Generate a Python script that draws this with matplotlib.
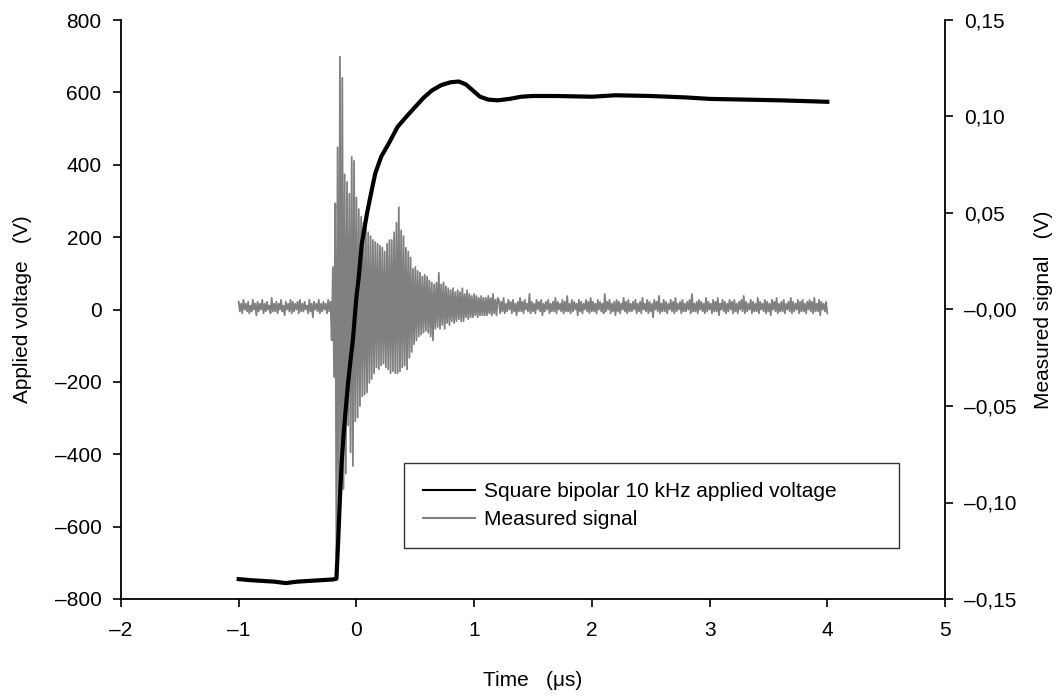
import numpy as np
import matplotlib
matplotlib.use("Agg")
import matplotlib.pyplot as plt

plt.rcParams['font.family'] = ['Liberation Sans', 'DejaVu Sans']

# ---------------- data ----------------
# Applied voltage (V) vs time (us)
volt_t = [-1.0, -0.9, -0.8, -0.7, -0.6, -0.5, -0.4, -0.3, -0.2, -0.17, -0.155, -0.14, -0.125,
          -0.11, -0.095, -0.07, -0.05, -0.03, 0.0, 0.02, 0.045, 0.09, 0.13, 0.16, 0.21, 0.28,
          0.35, 0.43, 0.5, 0.57, 0.64, 0.72, 0.8, 0.87, 0.93, 0.99, 1.05, 1.12, 1.2, 1.3, 1.4,
          1.5, 1.7, 2.0, 2.2, 2.5, 2.8, 3.0, 3.3, 3.6, 3.8, 4.0]
volt_v = [-745, -748, -750, -752, -756, -752, -750, -748, -746, -744, -640, -520, -420,
          -350, -290, -200, -140, -84, 35, 90, 180, 266, 330, 376, 422, 462,
          505, 535, 560, 585, 605, 620, 628, 630, 622, 605, 588, 580, 578, 582, 588,
          590, 590, 588, 592, 590, 586, 582, 580, 578, 576, 574]

# Measured signal (mV), three sampled segments
pre_range = (-1.0, -0.23)
sig_pre_mV = [4, -1, 3, -2, 5, 0, 3, -1, 4, -2, 2, -1, 5, 0, 3, -3, 4, -1, 3, 0,
              5, -2, 3, -1, 4, 0, 2, -2, 6, -1, 3, -1, 4, -2, 3, 0, 5, -1, 2, -3,
              4, 0, 3, -1, 5, -2, 4, -1, 3, 0, 4, -2, 5, -1, 3, -1, 4, 0, 2, -2,
              5, -1, 3, -4, 4, 0, 3, -1, 5, -2, 3, -1, 4, 0, 3, -2, 5, -1]

burst_range = (-0.22, 1.20)
sig_burst_mV = [4, -16, 22, -35, 55, -128, 84, -110, 131, -95,
                120, -93, 70, -85, 66, -60, 60, -74, 79, -81,
                77, -58, 58, -56, 52, -50, 48, -45, 45, -44,
                42, -43, 40, -38, 38, -36, 36, -33, 35, -30,
                34, -31, 33, -29, 32, -28, 30, -30, 34, -31,
                36, -33, 36, -32, 40, -33, 45, -33, 53, -32,
                41, -30, 38, -29, 32, -31, 30, -25, 27, -22,
                21, -18, 22, -16, 20, -14, 19, -13, 17, -12,
                18, -11, 17, -12, 15, -14, 14, -16, 13, -10,
                14, -9, 19, -10, 13, -8, 14, -10, 12, -7,
                11, -8, 10, -6, 11, -7, 9, -6, 10, -5,
                9, -6, 11, -6, 8, -4, 10, -5, 8, -4,
                7, -4, 8, -3, 7, -4, 6, -3, 7, -3,
                6, -3, 6, -3, 7, -2, 6, -3, 8, -2,
                5, -3, 6]

tail_range = (1.21, 4.0)
sig_tail_mV = [5, -2, 4, -1, 6, -2, 3, -1, 5, 0, 4, -2, 5, -1, 3, -3, 4, -1, 6, -1,
               4, -2, 5, 0, 3, -1, 8, -2, 4, -1, 3, -2, 5, 0, 4, -1, 5, -3, 3, -1,
               4, 0, 5, -2, 3, -1, 4, -1, 6, -2, 4, 0, 3, -1, 5, -2, 4, -1, 7, -1,
               3, -2, 5, -1, 4, 0, 3, -3, 5, -1, 4, -2, 3, 0, 5, -1, 4, -2, 6, -1,
               4, -1, 3, -2, 5, 0, 4, -1, 3, -2, 8, -1, 4, 0, 5, -2, 3, -1, 4, -3,
               5, -1, 4, -2, 3, 0, 6, -1, 4, -2, 5, -1, 3, -1, 4, 0, 5, -2, 3, -1,
               4, -2, 6, 0, 3, -1, 5, -2, 4, -1, 3, -4, 5, 0, 4, -1, 7, -2, 3, -1,
               5, -1, 4, -2, 3, 0, 5, -1, 4, -2, 6, -1, 3, 0, 4, -2, 5, -1, 3, -1,
               4, 0, 5, -2, 8, -1, 3, -1, 4, -2, 5, 0, 4, -1, 3, -2, 6, -1, 4, 0,
               3, -2, 5, -1, 4, -1, 6, -3, 3, 0, 5, -1, 4, -2, 3, -1, 5, 0, 4, -2,
               5, -1, 3, -2, 4, 0, 5, -1, 7, -2, 4, -1, 3, 0, 5, -2, 4, -1, 3, -1,
               6, -2, 4, 0, 3, -1, 5, -2, 4, -1, 3, -3, 5, 0, 4, -1, 6, -2, 3, -1,
               4, -1, 5, -2, 3, 0, 4, -1, 6, -2, 4, -1, 3, 0, 5, -2, 4, -1, 5, -1,
               3, -2, 4, 0, 5, -1, 4, -2, 6, -1, 3, -1, 5, -3, 4, 0, 3, -1, 4, -2]

x_ticks = [-2, -1, 0, 1, 2, 3, 4, 5]
x_labels = ['\u20132', '\u20131', '0', '1', '2', '3', '4', '5']
left_ticks = [-800, -600, -400, -200, 0, 200, 400, 600, 800]
left_labels = ['\u2013800', '\u2013600', '\u2013400', '\u2013200', '0', '200', '400', '600', '800']
right_ticks = [-0.15, -0.10, -0.05, 0.0, 0.05, 0.10, 0.15]
right_labels = ['\u20130,15', '\u20130,10', '\u20130,05', '\u20130,00', '0,05', '0,10', '0,15']

label_volt = 'Square bipolar 10 kHz applied voltage'
label_sig = 'Measured signal'

# ---------------- build series ----------------
segs_t, segs_v = [], []
for rng, vals in [(pre_range, sig_pre_mV), (burst_range, sig_burst_mV), (tail_range, sig_tail_mV)]:
    segs_t.append(np.linspace(rng[0], rng[1], len(vals)))
    segs_v.append(np.asarray(vals, dtype=float) / 1000.0)
sig_t = np.concatenate(segs_t)
sig_v = np.concatenate(segs_v)

# ---------------- figure ----------------
fs = 15
fig = plt.figure(figsize=(10.56, 6.97), dpi=100)
ax = fig.add_axes([121 / 1056, 1 - 599 / 697, 824 / 1056, 579 / 697])
ax2 = ax.twinx()

l2, = ax2.plot(sig_t, sig_v, color='#808080', lw=1.3, label=label_sig)
l1, = ax.plot(volt_t, volt_v, color='black', lw=3.0, label=label_volt, solid_joinstyle='round')

ax.set_zorder(ax2.get_zorder() + 1)
ax.patch.set_visible(False)

ax.set_xlim(-2, 5)
ax.set_ylim(-800, 800)
ax2.set_ylim(-0.15, 0.15)

ax.set_xticks(x_ticks)
ax.set_xticklabels(x_labels)
ax.set_yticks(left_ticks)
ax.set_yticklabels(left_labels)
ax2.set_yticks(right_ticks)
ax2.set_yticklabels(right_labels)

for a in (ax, ax2):
    a.spines['top'].set_visible(False)
    for s in a.spines.values():
        s.set_linewidth(1.3)
        s.set_color('black')
    a.tick_params(direction='out', length=6, width=1.2, labelsize=fs, colors='black', pad=8)
ax.tick_params(axis='x', pad=10)
ax.spines['right'].set_visible(False)
ax2.spines['left'].set_visible(False)
ax2.spines['bottom'].set_visible(False)

ax.set_xlabel('Time   (\u03bcs)', fontsize=fs, labelpad=22)
ax.set_ylabel('Applied voltage   (V)', fontsize=fs, labelpad=16)
ax2.set_ylabel('Measured signal   (V)', fontsize=fs, rotation=90, labelpad=12)

leg_x0 = (404 - 121) / 824
leg_y0 = (599 - 549) / 579
leg_w = (899 - 404) / 824
leg_h = (549 - 462) / 579
leg = ax.legend([l1, l2], [label_volt, label_sig], loc='center', mode='expand',
                bbox_to_anchor=(leg_x0, leg_y0, leg_w, leg_h), borderaxespad=0,
                fontsize=fs, frameon=True, fancybox=False, edgecolor='black',
                handlelength=2.5, handletextpad=0.4, labelspacing=0.45, borderpad=0.92)
leg.get_frame().set_linewidth(1.0)
for h in leg.get_lines():
    h.set_linewidth(1.5)

fig.savefig('out.png', dpi=100)
